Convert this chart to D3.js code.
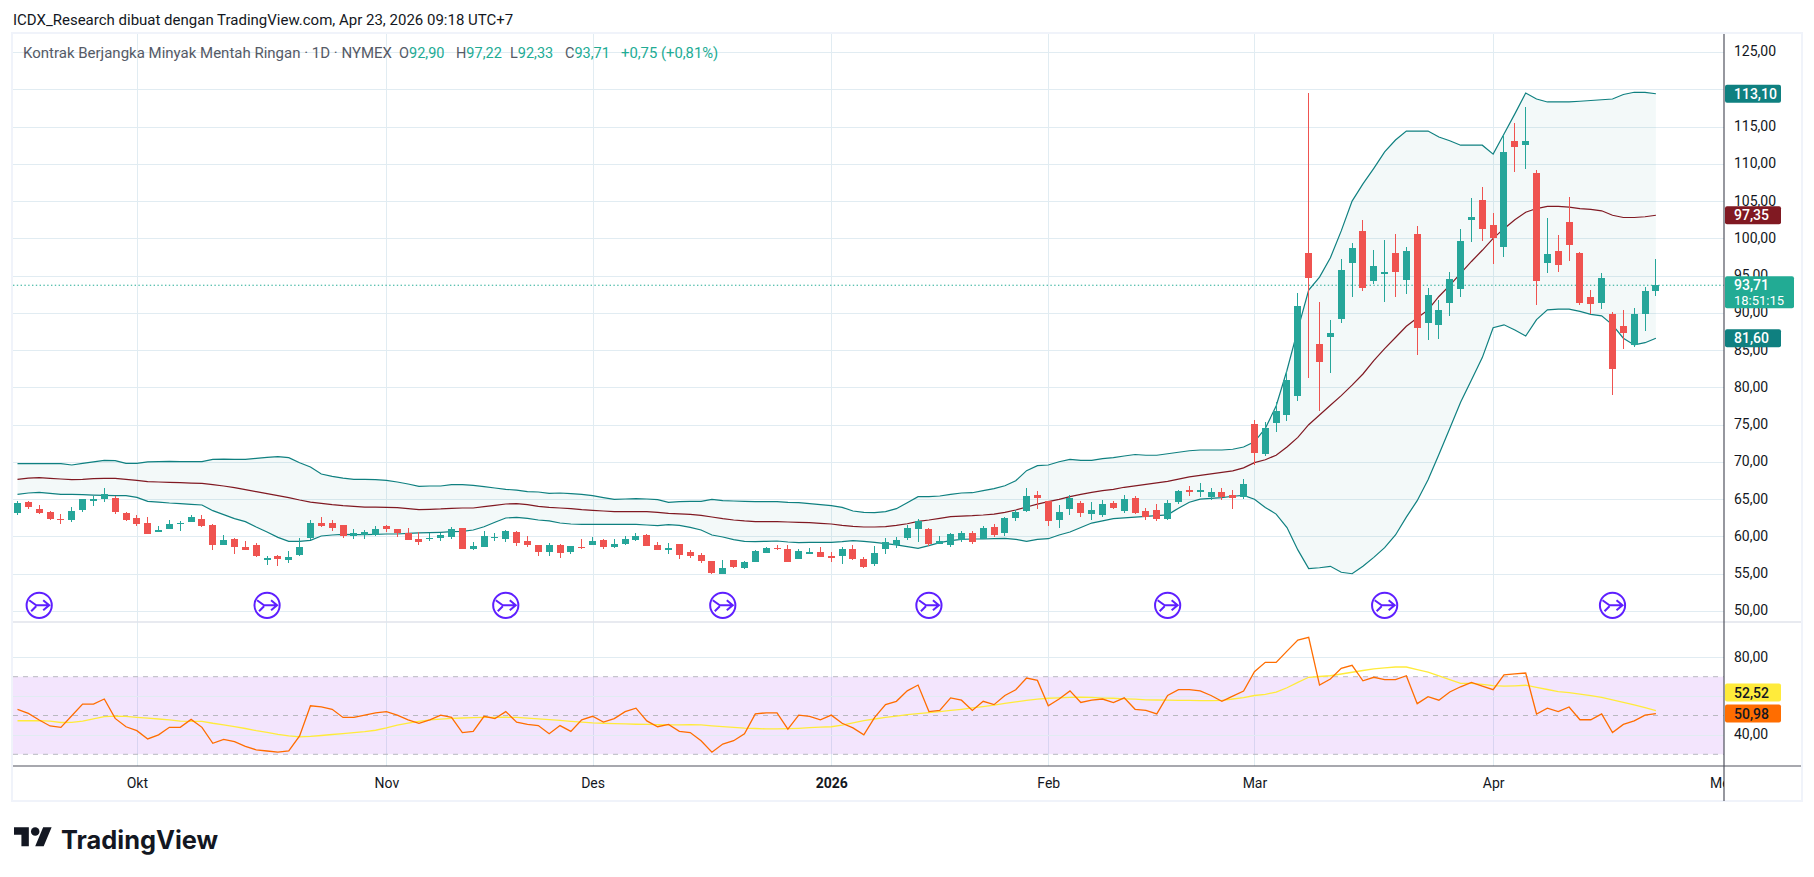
<!DOCTYPE html>
<html>
<head>
<meta charset="utf-8">
<script src="https://cdnjs.cloudflare.com/ajax/libs/d3/7.8.5/d3.min.js"></script>
<style>
  body { margin: 0; background: #fff; overflow: hidden; }
  text { font-family: Roboto, sans-serif; fill: #131722; }
</style>
</head>
<body>
<script>
// daily candles
const opens = [
  63.19,64.63,63.69,63.28,62.37,62.21,63.55,64.76,65.03,65.16,
  63.15,62.48,61.81,60.60,61.00,61.74,61.94,62.34,61.54,58.85,
  59.66,58.59,58.86,57.10,57.38,56.85,57.52,59.80,61.81,61.81,
  61.54,60.06,60.20,60.20,61.40,61.00,60.47,59.66,59.70,59.80,
  59.93,61.14,58.32,58.59,59.85,59.66,60.60,59.39,58.86,57.92,
  58.86,57.92,58.59,58.86,59.53,58.59,59.00,59.53,60.20,58.86,
  58.40,59.00,57.92,57.52,56.71,54.97,56.85,55.77,56.58,57.78,
  58.50,58.32,56.98,57.65,57.92,57.35,57.38,58.32,56.98,56.31,
  58.32,58.86,59.80,61.00,61.00,59.00,58.86,59.53,60.50,59.66,
  61.27,60.40,62.47,63.42,65.56,64.76,62.20,63.68,64.49,63.01,
  62.88,64.49,63.40,65.20,63.40,63.60,62.40,64.60,66.30,65.90,
  65.30,65.90,65.60,65.30,75.10,71.10,75.20,76.30,78.90,98.04,
  85.83,86.77,89.18,96.69,100.99,94.28,95.20,98.04,94.41,100.59,
  88.65,88.38,91.33,93.21,102.47,105.15,101.79,98.84,113.06,112.53,
  108.77,96.69,98.31,102.20,98.00,92.10,91.30,89.80,88.20,85.70,
  89.80,92.90
];
const highs = [
  64.76,64.76,64.18,63.42,62.97,63.95,65.03,65.43,66.50,65.43,
  63.28,62.88,62.61,61.40,62.21,62.07,62.88,62.88,61.67,60.20,
  59.80,59.39,59.13,57.38,57.52,58.05,59.80,62.21,62.61,62.21,
  61.54,61.00,60.87,61.40,61.54,61.00,61.14,60.60,60.47,60.47,
  61.27,61.14,59.26,60.73,60.47,60.87,60.73,60.06,58.86,59.13,
  59.00,58.72,59.66,59.93,59.66,59.66,60.07,60.47,60.33,59.26,
  59.13,59.00,58.19,57.79,56.71,56.85,56.85,56.71,58.19,58.59,
  58.86,58.86,58.32,58.46,58.59,57.92,58.59,58.86,57.25,58.72,
  59.80,59.93,61.54,62.34,61.10,60.07,60.40,60.80,60.70,61.40,
  61.67,62.60,63.55,66.50,66.10,64.76,64.20,65.56,64.76,64.62,
  64.89,64.76,65.60,65.40,63.80,64.30,64.90,66.30,66.80,67.20,
  66.50,66.50,66.30,67.70,75.60,75.30,78.00,82.20,92.67,119.50,
  91.46,89.05,97.23,99.38,102.47,98.44,99.78,100.59,98.84,101.66,
  93.34,91.73,95.49,101.26,105.42,106.89,103.41,113.87,115.48,117.63,
  109.17,102.73,100.45,105.60,98.20,93.10,95.30,90.10,90.40,90.60,
  93.50,97.22
];
const lows = [
  62.88,63.69,63.01,62.21,61.67,61.94,63.28,64.09,64.63,63.01,
  62.08,61.40,60.33,60.60,61.00,60.73,61.94,61.27,58.18,58.85,
  57.65,58.19,57.25,56.17,56.04,56.44,57.38,59.53,61.27,60.73,
  59.80,59.66,59.66,60.06,60.60,59.93,59.53,58.85,59.40,59.40,
  59.66,58.32,58.19,58.59,59.40,59.26,58.72,58.59,57.38,57.38,
  57.11,57.65,58.32,58.86,58.32,58.46,58.86,59.40,58.72,58.19,
  57.65,57.00,57.11,56.44,54.97,54.97,55.77,55.64,56.58,57.78,
  58.19,56.58,56.98,57.65,57.25,56.58,56.31,56.85,55.77,56.04,
  57.65,58.46,59.50,59.26,58.72,59.00,58.60,59.26,59.00,59.66,
  59.90,60.10,62.07,63.28,63.68,61.40,61.13,62.88,62.61,62.20,
  62.61,63.68,63.20,63.00,62.20,62.10,62.20,64.30,65.40,65.30,
  64.90,64.90,63.70,65.00,69.60,70.80,74.00,75.50,78.20,81.27,
  76.80,82.00,88.65,92.13,92.94,93.88,91.46,92.13,92.54,84.35,
  86.36,86.50,89.58,92.13,99.51,99.65,96.56,97.50,108.90,109.30,
  91.06,95.35,95.49,97.00,91.00,89.80,90.50,79.00,85.10,85.40,
  87.60,92.33
];
const closes = [
  64.49,63.95,63.15,62.34,62.34,63.42,65.03,65.03,65.70,63.28,
  62.21,61.67,60.33,60.87,61.67,61.81,62.61,61.40,58.85,59.53,
  58.59,58.19,57.38,57.11,56.98,57.25,58.59,61.81,61.40,61.14,
  60.06,60.47,60.60,61.00,61.00,60.47,59.53,59.26,59.85,60.20,
  61.00,58.32,58.72,60.06,59.93,60.73,59.13,58.86,57.92,58.86,
  57.79,58.72,58.46,59.39,58.59,59.00,59.66,60.07,58.72,58.19,
  58.45,57.52,57.38,56.71,55.10,55.77,55.91,56.58,58.05,58.46,
  58.35,56.58,58.05,57.92,57.25,57.25,58.32,56.98,55.91,57.79,
  59.26,59.53,61.13,62.07,59.00,59.40,60.30,60.50,59.26,61.13,
  60.20,62.47,63.28,65.43,65.16,62.07,63.28,65.16,63.15,63.55,
  64.35,63.82,65.00,63.20,62.60,62.30,64.50,66.10,65.90,66.30,
  65.90,65.30,65.20,67.00,71.20,74.60,76.90,81.00,90.93,94.68,
  83.41,87.30,95.76,98.71,93.34,96.29,95.49,95.49,98.31,87.97,
  92.40,90.39,94.55,99.65,102.87,101.26,100.05,111.59,112.26,113.06,
  94.28,97.90,96.43,99.10,91.30,91.20,94.70,82.50,87.30,89.80,
  92.90,93.71
];

// bollinger bands
const bbUpper = [
  69.77,69.77,69.77,69.77,69.77,69.59,69.81,70.00,70.20,70.17,
  69.81,69.81,70.00,70.04,70.08,70.04,70.04,70.04,70.35,70.39,
  70.35,70.35,70.48,70.62,70.71,70.57,69.90,69.32,68.38,68.07,
  67.84,67.67,67.67,67.62,67.53,67.31,67.04,66.73,66.77,66.77,
  66.95,66.95,66.86,66.68,66.50,66.32,66.23,66.01,65.97,65.79,
  65.83,65.74,65.65,65.47,65.21,64.98,65.03,65.07,65.03,64.94,
  64.58,64.67,64.71,64.71,64.98,64.80,64.76,64.71,64.67,64.67,
  64.67,64.58,64.53,64.40,64.26,64.13,63.91,63.42,63.24,63.19,
  63.33,63.73,64.53,65.34,65.34,65.43,65.65,65.83,65.87,66.14,
  66.41,66.81,67.48,68.83,69.50,69.59,70.03,70.35,70.21,70.21,
  70.44,70.57,70.80,71.00,70.90,70.90,71.10,71.30,71.50,71.60,
  71.60,71.60,71.70,72.00,72.70,74.50,77.50,82.30,87.80,93.07,
  94.80,97.40,101.00,105.00,107.30,109.40,111.60,113.20,114.40,114.40,
  114.40,113.60,113.10,112.50,112.50,112.50,111.30,114.00,116.70,119.50,
  118.70,118.30,118.30,118.30,118.40,118.50,118.60,118.70,119.30,119.60,
  119.60,119.40
];
const bbBasis = [
  67.67,67.84,67.89,67.80,67.71,67.62,67.67,67.76,67.80,67.80,
  67.67,67.53,67.35,67.31,67.26,67.22,67.17,67.13,66.95,66.77,
  66.55,66.28,66.01,65.74,65.47,65.21,64.89,64.62,64.45,64.27,
  64.13,64.04,63.95,63.95,63.91,63.86,63.73,63.60,63.64,63.69,
  63.78,63.82,63.82,64.00,64.18,64.36,64.40,64.27,64.04,63.91,
  63.82,63.73,63.60,63.51,63.42,63.33,63.33,63.33,63.33,63.24,
  63.10,63.02,62.97,62.84,62.61,62.39,62.21,62.08,61.99,61.99,
  61.99,61.94,61.90,61.85,61.76,61.67,61.49,61.36,61.27,61.27,
  61.31,61.49,61.71,62.03,62.21,62.43,62.65,62.74,62.79,62.88,
  63.01,63.24,63.55,63.95,64.35,64.67,64.98,65.34,65.65,65.92,
  66.14,66.32,66.60,66.80,67.00,67.20,67.40,67.70,68.00,68.20,
  68.40,68.60,68.80,69.20,69.90,70.30,70.90,72.00,73.30,75.00,
  76.30,77.60,78.90,80.30,81.80,83.60,85.20,86.70,88.20,89.30,
  90.40,92.20,93.70,95.30,96.90,98.40,100.00,101.30,102.50,103.50,
  104.00,104.30,104.30,104.20,104.00,103.90,103.70,103.10,102.80,102.80,
  102.90,103.10
];
const bbLower = [
  65.65,65.83,65.92,65.79,65.65,65.65,65.61,65.56,65.52,65.47,
  65.47,65.25,64.71,64.62,64.49,64.40,64.31,64.22,63.46,62.93,
  62.39,61.99,61.27,60.60,59.88,59.35,59.35,59.48,60.06,60.20,
  60.29,60.24,60.24,60.29,60.33,60.33,60.42,60.47,60.51,60.56,
  60.64,60.69,60.87,61.31,61.90,62.48,62.57,62.43,62.21,62.08,
  61.81,61.67,61.63,61.63,61.63,61.63,61.63,61.63,61.54,61.45,
  61.58,61.49,61.23,60.87,60.20,59.93,59.57,59.35,59.30,59.35,
  59.39,59.26,59.17,59.22,59.22,59.22,59.30,59.44,59.35,59.22,
  59.04,58.86,58.63,58.41,58.77,59.17,59.44,59.62,59.66,59.66,
  59.71,59.75,59.62,59.35,59.60,59.70,60.20,60.60,61.20,61.80,
  62.10,62.40,62.50,62.60,62.70,62.80,62.90,63.80,64.60,65.00,
  65.10,65.20,65.40,65.50,65.00,63.90,63.00,61.20,58.20,55.70,
  55.80,56.00,55.20,55.00,56.00,57.20,58.50,60.20,62.60,64.80,
  67.60,71.00,74.50,78.00,81.00,84.00,88.00,88.40,87.70,86.90,
  89.10,90.40,90.50,90.50,90.20,89.80,89.60,88.40,86.60,85.70,
  86.00,86.60
];

// rsi and its moving average
const rsiLine = [
  53.2,51.1,47.7,44.6,43.9,49.9,55.9,55.9,58.5,48.5,
  44.2,42.2,37.9,40.0,43.9,43.9,48.0,43.9,35.7,37.7,
  36.5,34.1,32.3,31.7,31.1,31.7,39.5,55.0,54.4,53.2,
  49.0,49.0,50.2,51.4,52.0,50.2,47.8,46.0,47.8,50.2,
  49.0,41.2,41.8,49.6,48.4,52.0,46.6,45.4,44.8,40.6,
  44.8,41.8,47.8,49.6,46.6,48.4,52.0,53.8,47.2,44.2,
  45.4,41.8,41.2,37.0,31.1,35.3,37.0,40.6,50.8,51.4,
  51.4,43.0,50.2,49.6,47.8,50.2,46.0,43.6,40.0,49.0,
  55.6,57.3,62.7,65.7,52.0,52.6,59.1,57.9,52.6,57.3,
  55.6,60.3,63.3,69.3,68.1,55.0,58.5,62.7,56.7,57.9,
  58.5,56.7,59.1,53.2,52.6,50.8,60.3,63.3,63.3,62.7,
  60.3,57.3,60.0,62.6,72.6,77.4,77.4,83.2,88.9,90.3,
  65.7,68.8,74.3,75.9,67.9,69.7,68.5,68.5,70.5,56.1,
  59.7,57.9,62.1,64.8,67.1,65.2,63.3,71.0,71.5,71.9,
  50.8,53.8,52.0,54.4,47.8,47.8,50.8,41.2,45.4,47.2,
  50.2,50.98
];
const rsiMa = [
  47.3,47.3,47.4,47.1,46.4,46.5,47.1,48.3,49.4,49.7,
  49.5,49.0,48.6,48.2,47.7,47.1,47.0,47.0,46.0,45.2,
  44.3,43.3,42.2,41.3,40.3,39.5,39.0,39.2,39.7,40.2,
  40.7,41.2,41.7,42.4,43.6,45.0,46.1,47.0,47.7,48.1,
  48.5,48.7,48.9,49.0,49.0,49.1,49.0,48.6,48.3,47.9,
  47.5,47.0,46.6,46.2,46.0,45.8,45.7,45.5,45.4,45.3,
  45.2,45.2,45.3,45.2,44.7,44.3,43.9,43.5,43.3,43.1,
  43.1,43.2,43.4,43.7,44.0,44.2,45.0,46.2,47.4,48.2,
  49.0,49.7,50.4,51.0,51.5,52.0,52.6,53.2,53.9,54.6,
  55.4,56.2,57.0,57.8,58.4,58.9,59.1,59.3,59.4,59.3,
  59.0,58.9,58.6,58.4,58.1,58.0,57.9,57.8,57.8,57.7,
  57.7,57.8,58.5,59.2,60.3,60.9,62.1,64.3,67.1,69.7,
  70.1,70.5,71.4,72.3,73.2,74.0,74.6,75.0,75.0,73.7,
  72.3,70.4,68.5,66.6,66.6,66.0,65.4,65.1,65.3,65.6,
  64.5,63.4,62.3,61.8,61.0,60.2,59.3,58.0,56.8,55.5,
  54.0,52.52
];

const priceTicks = [125,120,115,110,105,100,95,90,85,80,75,70,65,60,55,50];
const priceLabels = [125,115,110,105,100,95,90,85,80,75,70,65,60,55,50]; // 120 sits under the band tag
const rsiTicks = [80,40];
const rsiGrid = [80,60,40];
const monthBars = [11,34,53,75,95,114,136,157];
const monthLabels = ["Okt","Nov","Des","2026","Feb","Mar","Apr","Mei"];
const eventBars = [2,23,45,65,84,106,126,147];

const comma = v => v.toFixed(2).replace(".", ",");

const plotLeft = 13, plotRight = 1724, boxRight = 1801;
const plotTop = 34, paneSplit = 622, rsiBottom = 766, boxBottom = 801;

const x = d3.scaleLinear().domain([0, 151]).range([17.5, 1655.9]);
const y = d3.scaleLinear().domain([50, 120]).range([611, 89.3]);
const yRsi = d3.scaleLinear().domain([40, 80]).range([734.9, 657.3]);

const svg = d3.select("body").append("svg")
  .attr("width", 1814).attr("height", 877)
  .style("display", "block");

svg.append("defs").append("clipPath").attr("id", "plotClip")
  .append("rect").attr("x", plotLeft).attr("y", plotTop)
  .attr("width", plotRight - plotLeft).attr("height", boxBottom - plotTop);

// grid
const gridColor = "#e1ecf2";
const vGrid = svg.append("g")
  .attr("transform", `translate(0,${rsiBottom})`)
  .call(d3.axisBottom(x).tickValues(monthBars.slice(0, 7)).tickSize(-(rsiBottom - plotTop)).tickFormat(""));
vGrid.select(".domain").remove();
vGrid.selectAll("line").attr("stroke", gridColor).attr("shape-rendering", "crispEdges");

const hGrid = svg.append("g")
  .attr("transform", `translate(${plotRight},0)`)
  .call(d3.axisLeft(y).tickValues(priceTicks).tickSize(plotRight - plotLeft).tickFormat(""));
hGrid.select(".domain").remove();
hGrid.selectAll("line").attr("stroke", gridColor).attr("shape-rendering", "crispEdges");

// rsi pane background
svg.append("rect")
  .attr("x", plotLeft).attr("width", plotRight - plotLeft)
  .attr("y", yRsi(70)).attr("height", yRsi(30) - yRsi(70))
  .attr("fill", "#9c27f0").attr("fill-opacity", 0.12);

const rGrid = svg.append("g")
  .attr("transform", `translate(${plotRight},0)`)
  .call(d3.axisLeft(yRsi).tickValues(rsiGrid).tickSize(plotRight - plotLeft).tickFormat(""));
rGrid.select(".domain").remove();
rGrid.selectAll("line").attr("stroke", gridColor).attr("shape-rendering", "crispEdges");

svg.append("g").selectAll("line").data([70, 50, 30]).join("line")
  .attr("x1", plotLeft).attr("x2", plotRight)
  .attr("y1", d => yRsi(d)).attr("y2", d => yRsi(d))
  .attr("stroke", "#b8b9c0").attr("stroke-dasharray", "5 5");

// frame
svg.append("rect")
  .attr("x", plotLeft - 1).attr("y", plotTop - 1)
  .attr("width", boxRight - plotLeft + 2).attr("height", boxBottom - plotTop + 1)
  .attr("fill", "none").attr("stroke", "#f0f3fa").attr("stroke-width", 2);
svg.append("line").attr("x1", plotLeft).attr("x2", boxRight)
  .attr("y1", paneSplit).attr("y2", paneSplit).attr("stroke", "#e0e3eb").attr("stroke-width", 1.4);

// last price line
svg.append("line").attr("x1", plotLeft).attr("x2", plotRight)
  .attr("y1", y(closes[151])).attr("y2", y(closes[151]))
  .attr("stroke", "#22ab94").attr("stroke-dasharray", "1.4 2.4");

// bollinger
const idx = d3.range(opens.length);
svg.append("path").datum(idx)
  .attr("fill", "#0e8080").attr("fill-opacity", 0.05)
  .attr("d", d3.area().x(i => x(i)).y0(i => y(bbLower[i])).y1(i => y(bbUpper[i])));

const line = (vals, sc) => d3.line().x((d, i) => x(i)).y(d => sc(d))(vals);
[[bbUpper, "#0f8080"], [bbLower, "#0f8080"], [bbBasis, "#801922"]].forEach(([vals, col]) => {
  svg.append("path").attr("d", line(vals, y))
    .attr("fill", "none").attr("stroke", col).attr("stroke-width", 1.2);
});

// candles
const upColor = "#26a69a", downColor = "#ef5350";
const candle = svg.append("g").selectAll("g").data(idx).join("g")
  .attr("fill", i => closes[i] >= opens[i] ? upColor : downColor)
  .attr("shape-rendering", "crispEdges");
candle.append("rect")
  .attr("x", i => Math.floor(x(i)))
  .attr("width", 1)
  .attr("y", i => y(highs[i]))
  .attr("height", i => y(lows[i]) - y(highs[i]));
candle.append("rect")
  .attr("x", i => Math.floor(x(i)) - 3)
  .attr("width", 7)
  .attr("y", i => y(Math.max(opens[i], closes[i])))
  .attr("height", i => Math.max(1.5, Math.abs(y(opens[i]) - y(closes[i]))));

// event icons
const icon = svg.append("g").selectAll("g").data(eventBars).join("g")
  .attr("transform", i => `translate(${x(i)},605.3)`)
  .attr("fill", "none").attr("stroke", "#5e1fff").attr("stroke-width", 2);
icon.append("circle").attr("r", 12.6).attr("fill", "#fff");
icon.append("path").attr("d", "M-10 -5L-3 0L10 0M4 -5L10 0L4 5M-8 6L-3 1");

// rsi lines
svg.append("path").attr("d", line(rsiMa, yRsi))
  .attr("fill", "none").attr("stroke", "#ffeb3b").attr("stroke-width", 1.3);
svg.append("path").attr("d", line(rsiLine, yRsi))
  .attr("fill", "none").attr("stroke", "#ff6d00").attr("stroke-width", 1.3);

// axis lines
svg.append("line").attr("x1", plotRight).attr("x2", plotRight)
  .attr("y1", plotTop).attr("y2", boxBottom).attr("stroke", "#50535e").attr("stroke-width", 1.2);
svg.append("line").attr("x1", plotLeft).attr("x2", boxRight)
  .attr("y1", rsiBottom).attr("y2", rsiBottom).attr("stroke", "#50535e").attr("stroke-width", 1.2);

// price and rsi axis labels
const priceAxis = svg.append("g").attr("transform", `translate(${plotRight + 10},0)`)
  .call(d3.axisRight(y).tickValues(priceLabels).tickSize(0).tickPadding(0).tickFormat(comma));
priceAxis.select(".domain").remove();
priceAxis.selectAll("text").attr("font-size", 14).attr("dy", "0.28em");

const rsiAxis = svg.append("g").attr("transform", `translate(${plotRight + 10},0)`)
  .call(d3.axisRight(yRsi).tickValues(rsiTicks).tickSize(0).tickPadding(0).tickFormat(comma));
rsiAxis.select(".domain").remove();
rsiAxis.selectAll("text").attr("font-size", 14).attr("dy", "0.28em");

// time axis, the last label is cut by the price axis
const timeAxis = svg.append("g").attr("clip-path", "url(#plotClip)")
  .append("g").attr("transform", `translate(0,${rsiBottom + 12})`)
  .call(d3.axisBottom(x).tickValues(monthBars).tickSize(0).tickPadding(0)
    .tickFormat(i => monthLabels[monthBars.indexOf(i)]));
timeAxis.select(".domain").remove();
timeAxis.selectAll("text").attr("font-size", 14)
  .attr("font-weight", (d, i) => monthLabels[i] === "2026" ? 700 : 400);

// value tags on the axis
const tagData = [
  { label: "113,10", cy: y(bbUpper[151]), bg: "#0f8080", fg: "#fff" },
  { label: "97,35", cy: y(bbBasis[151]), bg: "#801922", fg: "#fff" },
  { label: "81,60", cy: y(bbLower[151]), bg: "#0f8080", fg: "#fff" },
  { label: "52,52", cy: yRsi(rsiLine[151]) - 21, bg: "#ffeb3b", fg: "#131722" },
  { label: "50,98", cy: yRsi(rsiLine[151]), bg: "#ff6d00", fg: "#131722" }
];
const tags = svg.append("g").selectAll("g").data(tagData).join("g")
  .attr("transform", d => `translate(${plotRight + 1},${d.cy})`);
tags.append("rect").attr("y", -9).attr("width", 56).attr("height", 18).attr("rx", 2).attr("fill", d => d.bg);
tags.append("text").attr("x", 9).attr("dy", "0.35em").attr("font-size", 14).attr("font-weight", 500)
  .style("fill", d => d.fg).text(d => d.label);

const lastTag = svg.append("g").attr("transform", `translate(${plotRight + 1},${y(closes[151])})`);
lastTag.append("rect").attr("y", -9).attr("width", 69).attr("height", 32).attr("rx", 2).attr("fill", "#22ab94");
lastTag.append("text").attr("x", 9).attr("dy", "0.35em").attr("font-size", 14).attr("font-weight", 500).style("fill", "#fff").text("93,71");
lastTag.append("text").attr("x", 9).attr("y", 15).attr("dy", "0.35em").attr("font-size", 13).style("fill", "#fff").text("18:51:15");

// header and legend
svg.append("text").attr("x", 13).attr("y", 25).attr("font-size", 15)
  .text("ICDX_Research dibuat dengan TradingView.com, Apr 23, 2026 09:18 UTC+7");

const legendTitle = "Kontrak Berjangka Minyak Mentah Ringan · 1D · NYMEX";
svg.append("text").attr("x", 23).attr("y", 58).attr("font-size", 15).style("fill", "#555a66").text(legendTitle);
const legendParts = [["O", "92,90", 399], ["H", "97,22", 456], ["L", "92,33", 510], ["C", "93,71", 565]];
legendParts.forEach(([k, v, px]) => {
  const t = svg.append("text").attr("x", px).attr("y", 58).attr("font-size", 14.5);
  t.append("tspan").style("fill", "#555a66").text(k);
  t.append("tspan").style("fill", "#22ab94").text(v);
});
svg.append("text").attr("x", 621).attr("y", 58).attr("font-size", 14.8).style("fill", "#22ab94").text("+0,75 (+0,81%)");

// logo
const logo = svg.append("g").attr("transform", "translate(14,823)").attr("fill", "#131722");
logo.append("path").attr("transform", "scale(1.06)").attr("d", "M14 22H7V11H0V4h14v18zM28 22h-8l7.5-18h8L28 22z");
logo.append("circle").attr("transform", "scale(1.06)").attr("cx", 20).attr("cy", 8).attr("r", 4);
svg.append("text").attr("x", 61).attr("y", 849).attr("font-size", 25.4)
  .attr("font-weight", 700).style("font-family", "Inter").text("TradingView");
</script>
</body>
</html>
